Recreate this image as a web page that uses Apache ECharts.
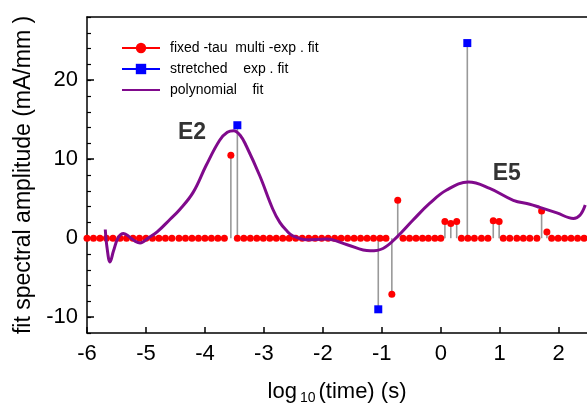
<!DOCTYPE html>
<html>
<head>
<meta charset="utf-8">
<script src="https://cdn.jsdelivr.net/npm/echarts@6/dist/echarts.min.js"></script>
<style>
  html, body { margin: 0; padding: 0; background: #fff; }
  #chart { width: 587px; height: 403px; }
</style>
</head>
<body>
<div id="chart"></div>
<script>
  // fixed-tau multi-exp fit: log10(tau) grid and amplitudes (mA/mm)
  var fixedTau = [-6.00, -5.89, -5.78, -5.67, -5.56, -5.44, -5.33, -5.22, -5.11, -5.00,
    -4.89, -4.78, -4.67, -4.56, -4.44, -4.33, -4.22, -4.11, -4.00, -3.89, -3.78, -3.67,
    -3.56,
    -3.45, -3.34, -3.23, -3.12, -3.01, -2.90, -2.79, -2.68, -2.57, -2.46, -2.35, -2.24,
    -2.13, -2.02, -1.91, -1.80, -1.69, -1.58, -1.47, -1.36, -1.25, -1.14, -1.03, -0.93,
    -0.83, -0.73,
    -0.64, -0.53, -0.42, -0.31, -0.21, -0.10, 0.00,
    0.07, 0.17, 0.27,
    0.35, 0.46, 0.57, 0.69, 0.80,
    0.89, 0.99,
    1.06, 1.17, 1.29, 1.40, 1.51, 1.63,
    1.71, 1.80,
    1.88, 1.99, 2.10, 2.21, 2.32, 2.43];
  var fixedAmp = [0, 0, 0, 0, 0, 0, 0, 0, 0, 0,
    0, 0, 0, 0, 0, 0, 0, 0, 0, 0, 0, 0,
    10.5,
    0, 0, 0, 0, 0, 0, 0, 0, 0, 0, 0, 0,
    0, 0, 0, 0, 0, 0, 0, 0, 0, 0, 0, 0,
    -7.1, 4.8,
    0, 0, 0, 0, 0, 0, 0,
    2.1, 1.85, 2.1,
    0, 0, 0, 0, 0,
    2.2, 2.1,
    0, 0, 0, 0, 0, 0,
    3.45, 0.8,
    0, 0, 0, 0, 0, 0];

  // stretched exponential fit
  var stretchedTau = [-3.45, -1.06, 0.45];
  var stretchedAmp = [14.3, -9.0, 24.7];

  // polynomial fit curve
  var polyX = [-5.69, -5.66, -5.61, -5.55, -5.47, -5.38, -5.27, -5.18, -5.10, -4.95,
    -4.81, -4.59, -4.43, -4.20, -3.98, -3.75, -3.62, -3.51, -3.40, -3.30,
    -3.07, -2.85, -2.73, -2.62, -2.51, -2.28, -1.94, -1.60, -1.20, -0.98,
    -0.75, -0.47, -0.19, 0.10, 0.47, 0.83, 1.23, 1.51, 1.68, 1.97,
    2.25, 2.36, 2.45];
  var polyY = [1.1, -1.2, -3.0, -1.6, 0.1, 0.6, 0.1, -0.4, -0.6, 0.1,
    0.8, 2.4, 3.6, 5.8, 9.2, 12.4, 13.4, 13.6, 13.0, 11.7,
    7.9, 3.7, 2.0, 1.0, 0.3, -0.2, -0.1, -0.8, -1.6, -1.3,
    0.1, 2.3, 4.4, 6.1, 7.1, 6.3, 4.8, 4.3, 3.9, 3.2,
    2.5, 2.9, 4.2];

  // peak labels
  var peakNames = ['E2', 'E5'];
  var peakX = [-4.22, 1.12];
  var peakY = [13.4, 8.2];

  var names = ['fixed -tau  multi -exp . fit', 'stretched    exp . fit', 'polynomial    fit'];

  var fixedData = fixedTau.map(function (t, i) { return [t, fixedAmp[i]]; });
  var stretchedData = stretchedTau.map(function (t, i) { return [t, stretchedAmp[i]]; });
  var polyData = polyX.map(function (t, i) { return [t, polyY[i]]; });
  var stemData = fixedData.filter(function (d) { return d[1] !== 0; }).concat(stretchedData);
  var peakData = peakNames.map(function (n, i) { return { name: n, value: [peakX[i], peakY[i]] }; });

  var font = 'Liberation Sans, Arial, sans-serif';

  var chart = echarts.init(document.getElementById('chart'));
  chart.setOption({
    animation: false,
    grid: { left: 87, top: 17, right: 0, bottom: 70, outerBoundsMode: 'none' },
    legend: {
      orient: 'vertical',
      left: 116,
      top: 36,
      itemWidth: 38,
      itemHeight: 13,
      itemGap: 7,
      textStyle: { fontFamily: font, fontSize: 14, color: '#000', padding: [0, 0, 0, 5] },
      data: [
        { name: names[0], lineStyle: { width: 2, opacity: 1 } },
        { name: names[1], lineStyle: { width: 2, opacity: 1 } },
        { name: names[2], itemStyle: { opacity: 0 } }
      ]
    },
    xAxis: [{
      type: 'value',
      min: -6,
      max: 2.48,
      interval: 1,
      axisLine: { onZero: false, lineStyle: { color: '#000', width: 1.5 } },
      axisTick: { inside: true, length: 6, lineStyle: { color: '#000', width: 1.5 } },
      axisLabel: { fontFamily: font, fontSize: 22, color: '#000', margin: 10, showMaxLabel: false },
      splitLine: { show: false },
      name: '{a|log}{s|10}{a|(time) (s)}',
      nameLocation: 'middle',
      nameGap: 46,
      nameTextStyle: {
        rich: {
          a: { fontFamily: font, fontSize: 22, color: '#000' },
          s: { fontFamily: font, fontSize: 14, color: '#000', padding: [12, 3, 0, 3] }
        }
      }
    }, {
      type: 'value',
      position: 'top',
      min: -6,
      max: 2.48,
      axisLine: { onZero: false, lineStyle: { color: '#000', width: 1.5 } },
      axisTick: { show: false },
      axisLabel: { show: false },
      splitLine: { show: false }
    }],
    yAxis: [{
      type: 'value',
      position: 'left',
      min: -12,
      max: 28,
      splitNumber: 4,
      axisLine: { show: true, onZero: false, lineStyle: { color: '#000', width: 1.5 } },
      axisTick: { inside: true, length: 7, lineStyle: { color: '#000', width: 1.5 } },
      axisLabel: { fontFamily: font, fontSize: 22, color: '#000', margin: 9, showMinLabel: false, showMaxLabel: false },
      splitLine: { show: false },
      name: 'fit spectral amplitude (mA/mm )',
      nameLocation: 'middle',
      nameGap: 50,
      nameTextStyle: { fontFamily: font, fontSize: 23, color: '#000' }
    }, {
      type: 'value',
      position: 'left',
      min: -12,
      max: 28,
      interval: 2,
      axisLine: { show: false, onZero: false },
      axisTick: { inside: true, length: 4, lineStyle: { color: '#000', width: 1.2 } },
      axisLabel: { show: false },
      splitLine: { show: false }
    }],
    series: [
      {
        type: 'custom',
        name: 'stems',
        z: 1,
        data: stemData,
        renderItem: function (params, api) {
          var p0 = api.coord([api.value(0), 0]);
          var p1 = api.coord([api.value(0), api.value(1)]);
          return {
            type: 'line',
            shape: { x1: p0[0], y1: p0[1], x2: p1[0], y2: p1[1] },
            style: { stroke: '#999999', lineWidth: 1.6 }
          };
        }
      },
      {
        type: 'line',
        name: names[0],
        z: 2,
        data: fixedData,
        symbol: 'circle',
        symbolSize: 7,
        showAllSymbol: true,
        itemStyle: { color: '#ff0000' },
        lineStyle: { color: '#ff0000', width: 0, opacity: 0 }
      },
      {
        type: 'line',
        name: names[2],
        z: 3,
        data: polyData,
        smooth: 0.4,
        showSymbol: false,
        symbol: 'none',
        itemStyle: { color: '#800a8c' },
        lineStyle: { color: '#800a8c', width: 3 }
      },
      {
        type: 'line',
        name: names[1],
        z: 4,
        data: stretchedData,
        symbol: 'rect',
        symbolSize: 8,
        itemStyle: { color: '#0000ff' },
        lineStyle: { color: '#0000ff', width: 0, opacity: 0 }
      },
      {
        type: 'scatter',
        name: 'labels',
        z: 5,
        data: peakData,
        symbolSize: 0,
        label: {
          show: true,
          position: 'inside',
          formatter: '{b}',
          fontFamily: font,
          fontSize: 23,
          fontWeight: 'bold',
          color: '#000'
        }
      }
    ]
  });
</script>
</body>
</html>
